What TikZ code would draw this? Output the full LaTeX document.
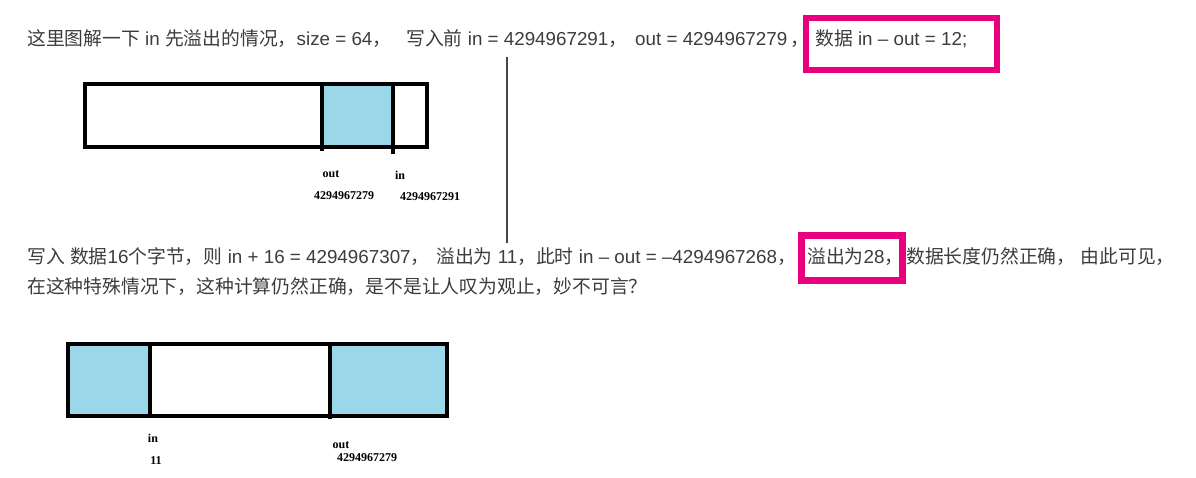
\documentclass[tikz,border=0pt]{standalone}
\usepackage{fontspec}
\setmainfont{Liberation Sans}
\newfontfamily\cjk{Noto Sans CJK SC}
\newfontfamily\lblfont{Liberation Serif}
\definecolor{textgray}{RGB}{60,60,60}
\definecolor{hilite}{RGB}{232,0,126}
\definecolor{cellblue}{RGB}{154,216,233}
\definecolor{linegray}{RGB}{70,70,70}
\newcommand\zh[1]{{\cjk #1}}
\tikzset{
  txt/.style={anchor=base west, inner sep=0pt, text=textgray, font=\fontsize{18.8}{22}\selectfont},
  lbl/.style={anchor=center, inner sep=0pt, font=\lblfont\bfseries\fontsize{12}{14}\selectfont},
  hibox/.style={draw=hilite, line width=6.5pt},
  bar/.style={draw=black, line width=4pt},
  cellfill/.style={fill=cellblue},
}
\begin{document}
\begin{tikzpicture}[x=1pt,y=-1pt]
\useasboundingbox (0,0) rectangle (1196,478);
% ---- line 1
\node[txt] (t1a) at (27,46) {\zh{这里图解一下} in \zh{先溢出的情况，}size = 64\zh{，}};
\node[txt] (t1b) at (406,46) {\zh{写入前} in = 4294967291\zh{，}};
\node[txt] (t1c) at (635,46) {out = 4294967279\,\zh{，}};
\node[txt] (t1d) at (815,46) {\zh{数据} in – out = 12;};
\draw[hibox] (806,18) rectangle (997,70);
% ---- vertical line
\coordinate (vtop) at (507,57);
\coordinate (vbot) at (507,243);
\draw[linegray, line width=1.8pt] (vtop) -- (vbot);
% ---- bar 1
\fill[cellfill] (322,84) rectangle (393,147);
\draw[bar] (85,84) rectangle (427,147);
\draw[bar] (322,84) -- (322,151);
\draw[bar] (393,84) -- (393,154);
\node[lbl] (o1) at (331,174) {out};
\node[lbl] (i1) at (400,175) {in};
\node[lbl] (o1v) at (344,196) {4294967279};
\node[lbl] (i1v) at (430,197) {4294967291};
% ---- line 2 and 3
\node[txt] (t2a) at (27,264) {\zh{写入} \zh{数据}16\zh{个字节，则} in + 16 = 4294967307\zh{，}};
\node[txt] (t2b) at (436,264) {\zh{溢出为} 11\zh{，此时} in – out = –4294967268\zh{，}};
\node[txt] (t2c) at (807,264) {\zh{溢出为}28\zh{，}};
\node[txt] (t2d) at (906,264) {\zh{数据长度仍然正确，} \zh{由此可见，}};
\draw[hibox] (801.5,235.5) rectangle (902.5,280.5);
\node[txt] (t3) at (27,293) {\zh{在这种特殊情况下，这种计算仍然正确，是不是让人叹为观止，妙不可言？}};
% ---- bar 2
\fill[cellfill] (68,344) rectangle (150,416);
\fill[cellfill] (330,344) rectangle (447,416);
\draw[bar] (68,344) rectangle (447,416);
\draw[bar] (150,344) -- (150,416);
\draw[bar] (330,344) -- (330,419);
\node[lbl] (i2) at (153,438) {in};
\node[lbl] (i2v) at (156,461) {11};
\node[lbl] (o2) at (341,445) {out};
\node[lbl] (o2v) at (367,458) {4294967279};
\end{tikzpicture}
\end{document}
